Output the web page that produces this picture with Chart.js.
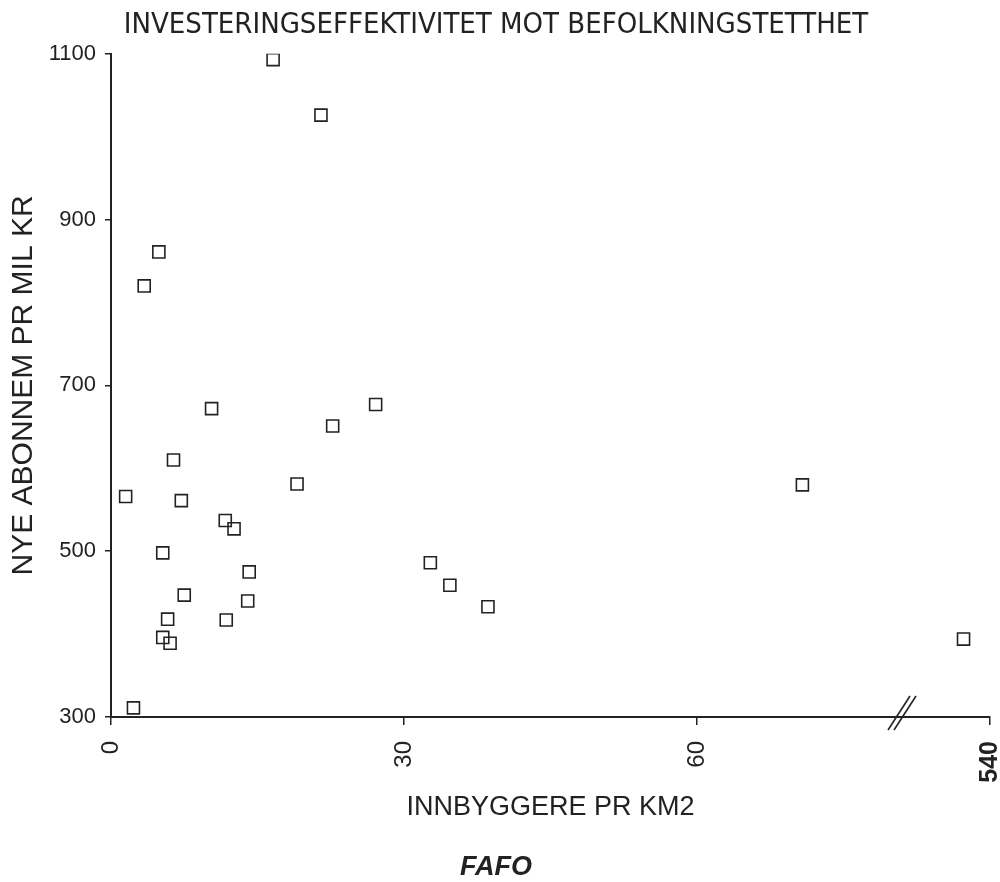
<!DOCTYPE html>
<html>
<head>
<meta charset="utf-8">
<script src="https://cdn.jsdelivr.net/npm/chart.js@4/dist/chart.umd.min.js"></script>
<style>
  html, body { margin: 0; background: #fff; }
  #wrap { width: 1000px; height: 882px; }
</style>
</head>
<body>
<div id="wrap"><canvas id="chart"></canvas></div>
<script>
// inhabitants per km2 (plotted position; the axis is broken after 81, last tick stands for 540)
const density = [
  1.5, 2.3, 3.4, 4.9, 5.3, 5.3, 5.8, 6.05, 6.4, 7.2, 7.5, 10.3, 11.7, 11.8,
  12.6, 14.0, 14.15, 16.6, 19.05, 21.5, 22.7, 27.1, 32.7, 34.7, 38.6, 70.8, 87.3,
];
// new subscribers per million kroner
const newSubscribers = [
  566, 311, 820, 861, 498, 396, 418, 389, 610, 561, 447, 672, 537, 417,
  527, 440, 475, 1093, 581, 1026, 651, 677, 486, 459, 433, 580, 394,
];
const xTickValues = [0, 30, 60, 90];
const xTickLabels = ["0", "30", "60", "540"];
const yTickValues = [300, 500, 700, 900, 1100];
const breakAt = 81;

const ink = "#222";
const plotFont = "'Liberation Sans', Arial, sans-serif";
const narrowFont = "'Liberation Sans Narrow', 'DejaVu Sans Condensed', sans-serif";

// the "//" mark on the x axis where it jumps to 540
const axisBreak = {
  id: "axisBreak",
  afterDraw(chart) {
    const { ctx, chartArea } = chart;
    const px = chart.scales.x.getPixelForValue(breakAt);
    const py = chartArea.bottom;
    ctx.save();
    ctx.strokeStyle = ink;
    ctx.lineWidth = 1.6;
    for (const dx of [-3, 3]) {
      ctx.beginPath();
      ctx.moveTo(px + dx - 11, py + 13);
      ctx.lineTo(px + dx + 11, py - 21);
      ctx.stroke();
    }
    ctx.restore();
  },
};

const points = density.map((x, i) => ({ x, y: newSubscribers[i] }));

new Chart(document.getElementById("chart"), {
  type: "scatter",
  data: {
    datasets: [
      {
        data: points,
        pointStyle: "rect",
        pointRadius: 8.5,
        pointHoverRadius: 8.5,
        pointBorderWidth: 1.6,
        borderColor: ink,
        backgroundColor: "rgba(255,255,255,0)",
      },
    ],
  },
  options: {
    responsive: true,
    maintainAspectRatio: false,
    animation: false,
    layout: { padding: { left: 0, right: 8, top: 0, bottom: 0 } },
    scales: {
      x: {
        type: "linear",
        min: 0,
        max: 90,
        afterBuildTicks: (scale) => {
          scale.ticks = xTickValues.map((value) => ({ value }));
        },
        afterFit: (scale) => {
          scale.height = 137;
          scale.paddingLeft = 0;
          scale.paddingRight = 0;
        },
        ticks: {
          autoSkip: false,
          minRotation: 90,
          maxRotation: 90,
          padding: 16,
          color: ink,
          callback: (value) => xTickLabels[xTickValues.indexOf(value)],
          font: (c) =>
            c.tick && c.tick.value === 90
              ? { family: plotFont, size: 25, weight: "bold" }
              : { family: plotFont, size: 24 },
        },
        grid: {
          drawOnChartArea: false,
          drawTicks: true,
          tickLength: 8,
          color: ink,
          lineWidth: 1.5,
        },
        border: { color: ink, width: 2 },
        title: {
          display: true,
          text: "INNBYGGERE PR KM2",
          color: ink,
          font: { family: plotFont, size: 27 },
          padding: { top: 0, bottom: 30 },
        },
      },
      y: {
        min: 300,
        max: 1100,
        afterBuildTicks: (scale) => {
          scale.ticks = yTickValues.map((value) => ({ value }));
        },
        afterFit: (scale) => {
          scale.width = 111;
        },
        ticks: {
          color: ink,
          padding: 9,
          font: { family: plotFont, size: 22 },
          callback: (value) => String(value),
        },
        grid: {
          drawOnChartArea: false,
          drawTicks: true,
          tickLength: 6,
          color: ink,
          lineWidth: 1.5,
        },
        border: { color: ink, width: 2 },
        title: {
          display: true,
          text: "NYE ABONNEM PR MIL KR",
          color: ink,
          font: { family: plotFont, size: 30 },
          padding: { top: 6, bottom: 0 },
        },
      },
    },
    plugins: {
      legend: { display: false },
      tooltip: { enabled: false },
      title: {
        display: true,
        text: "INVESTERINGSEFFEKTIVITET MOT BEFOLKNINGSTETTHET",
        color: ink,
        font: { family: narrowFont, size: 29, weight: "normal" },
        padding: { top: 8, bottom: 11 },
      },
      subtitle: {
        display: true,
        position: "bottom",
        text: "FAFO",
        color: ink,
        font: { family: plotFont, size: 27, weight: "bold", style: "italic", lineHeight: 1 },
        padding: { top: 0, bottom: 1 },
      },
    },
  },
  plugins: [axisBreak],
});
</script>
</body>
</html>
